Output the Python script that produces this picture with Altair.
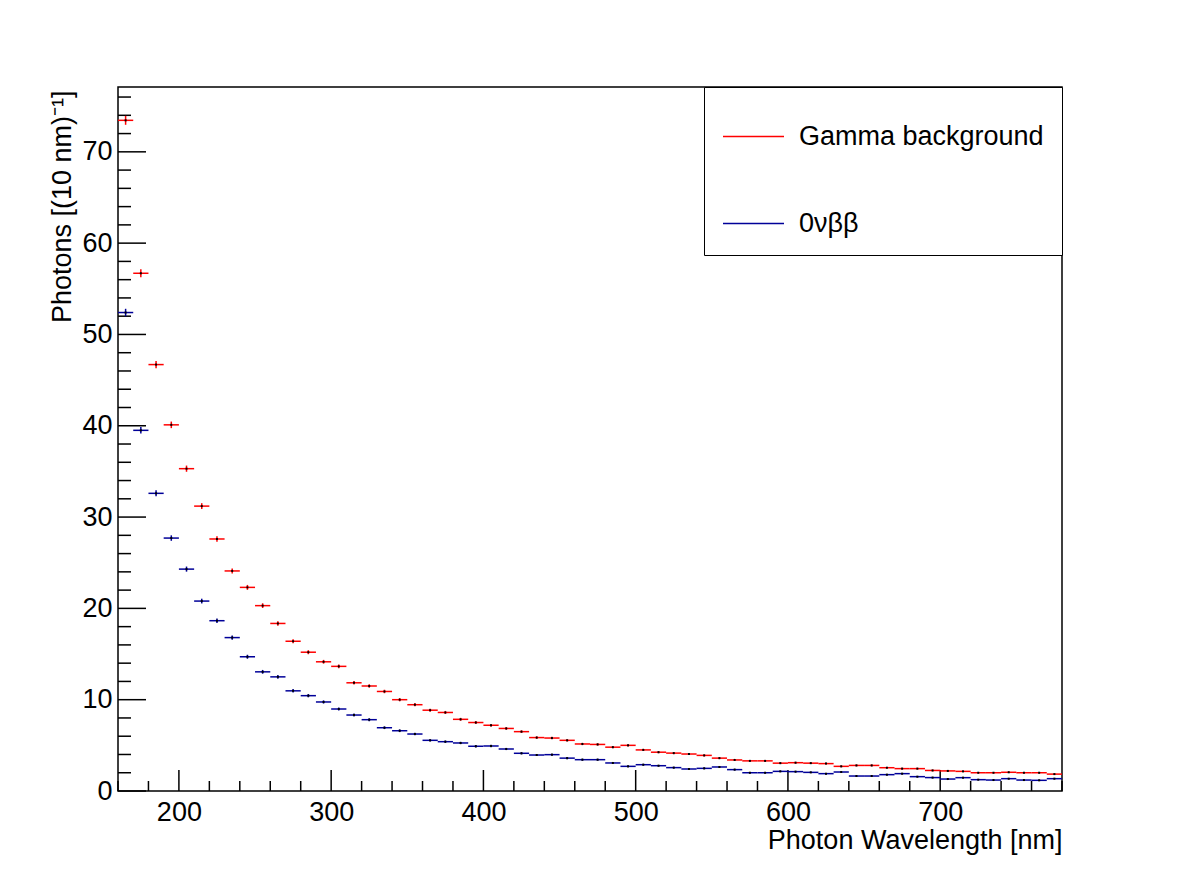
import altair as alt
import pandas as pd

# ---------------- data ----------------
wavelength = list(range(165, 780, 10))  # bin centres [nm], 10 nm bins from 160 to 780
series_names = ["Gamma background", "0νββ"]
series_colors = ["#ff0000", "#000099"]

gamma = [73.45, 56.7, 46.7, 40.1, 35.3, 31.2, 27.6, 24.1, 22.3, 20.3,
         18.35, 16.4, 15.2, 14.15, 13.65, 11.85, 11.5, 10.9, 10.0, 9.45,
         8.85, 8.6, 7.85, 7.5, 7.2, 6.85, 6.5, 5.85, 5.8, 5.55,
         5.15, 5.1, 4.8, 5.0, 4.5, 4.25, 4.15, 4.05, 3.9, 3.6,
         3.4, 3.3, 3.3, 3.05, 3.1, 3.05, 3.0, 2.7, 2.8, 2.8,
         2.55, 2.45, 2.45, 2.25, 2.2, 2.15, 2.0, 2.0, 2.05, 2.0,
         2.0, 1.85]
gamma_err = [0.49, 0.43, 0.39, 0.36, 0.34, 0.32, 0.30, 0.28, 0.27, 0.26,
             0.24, 0.23, 0.22, 0.21, 0.21, 0.20, 0.19, 0.19, 0.18, 0.18,
             0.17, 0.17, 0.16, 0.16, 0.15, 0.15, 0.15, 0.14, 0.14, 0.13,
             0.13, 0.13, 0.12, 0.13, 0.12, 0.12, 0.12, 0.11, 0.11, 0.11,
             0.11, 0.10, 0.10, 0.10, 0.10, 0.10, 0.10, 0.09, 0.10, 0.10,
             0.09, 0.09, 0.09, 0.09, 0.08, 0.08, 0.08, 0.08, 0.08, 0.08,
             0.08, 0.08]
nubb = [52.4, 39.5, 32.6, 27.7, 24.3, 20.8, 18.65, 16.8, 14.7, 13.05,
        12.5, 10.97, 10.44, 9.75, 8.98, 8.32, 7.81, 6.93, 6.6, 6.24,
        5.55, 5.4, 5.26, 4.9, 4.93, 4.6, 4.13, 3.94, 3.98, 3.6,
        3.43, 3.43, 3.07, 2.7, 2.88, 2.77, 2.56, 2.41, 2.48, 2.63,
        2.34, 2.0, 2.0, 2.15, 2.12, 2.04, 1.9, 2.08, 1.64, 1.64,
        1.79, 1.9, 1.57, 1.47, 1.31, 1.46, 1.24, 1.2, 1.35, 1.2,
        1.17, 1.35]
nubb_err = [0.41, 0.36, 0.33, 0.30, 0.28, 0.26, 0.25, 0.23, 0.22, 0.21,
            0.20, 0.19, 0.18, 0.18, 0.17, 0.16, 0.16, 0.15, 0.15, 0.14,
            0.13, 0.13, 0.13, 0.13, 0.13, 0.12, 0.12, 0.11, 0.11, 0.11,
            0.11, 0.11, 0.10, 0.09, 0.10, 0.09, 0.09, 0.09, 0.09, 0.09,
            0.09, 0.08, 0.08, 0.08, 0.08, 0.08, 0.08, 0.08, 0.07, 0.07,
            0.08, 0.08, 0.07, 0.07, 0.07, 0.07, 0.06, 0.06, 0.07, 0.06,
            0.06, 0.07]

x_domain = [160, 780]
y_domain = [0, 77.1]
x_major = [200, 300, 400, 500, 600, 700]
x_minor = [160, 180, 220, 240, 260, 280, 320, 340, 360, 380, 420, 440, 460, 480,
           520, 540, 560, 580, 620, 640, 660, 680, 720, 740, 760, 780]
y_major = [0, 10, 20, 30, 40, 50, 60, 70]
y_minor = [2, 4, 6, 8, 12, 14, 16, 18, 22, 24, 26, 28, 32, 34, 36, 38,
           42, 44, 46, 48, 52, 54, 56, 58, 62, 64, 66, 68, 72, 74, 76]

rows = []
for name, vals, errs in ((series_names[0], gamma, gamma_err),
                         (series_names[1], nubb, nubb_err)):
    for c, v, e in zip(wavelength, vals, errs):
        rows.append(dict(series=name, lo=c - 5, hi=c + 5, x=c, y=v,
                         ylo=v - e, yhi=v + e))
df = pd.DataFrame(rows)

W, H = 944, 704
FONT = "Liberation Sans"
FS = 27

xscale = alt.Scale(domain=x_domain, nice=False, zero=False)
yscale = alt.Scale(domain=y_domain, nice=False, zero=False)

xaxis = alt.Axis(values=x_major, format="d", title="Photon Wavelength [nm]",
                 ticks=False, tickSize=0, domain=False, grid=False,
                 labelFont=FONT, labelFontSize=FS, labelColor="black",
                 labelPadding=8, labelFlush=False, labelOverlap=False,
                 titleFont=FONT, titleFontSize=FS, titleFontWeight="normal",
                 titleColor="black", titleAlign="right", titleAnchor="end",
                 titleX=W, titleY=57, titleBaseline="alphabetic")
yaxis = alt.Axis(values=y_major, format="d", title="Photons [(10 nm)⁻¹]",
                 ticks=False, tickSize=0, domain=False, grid=False,
                 labelFont=FONT, labelFontSize=FS, labelColor="black",
                 labelPadding=6, labelFlush=False, labelOverlap=False,
                 titleFont=FONT, titleFontSize=FS, titleFontWeight="normal",
                 titleColor="black", titleAngle=270, titleAlign="right",
                 titleX=-48, titleY=3, titleBaseline="alphabetic")

color = alt.Color(
    "series:N",
    scale=alt.Scale(domain=series_names, range=series_colors),
    legend=alt.Legend(
        title=None, orient="none", legendX=586, legendY=0,
        direction="vertical", symbolType="stroke", symbolSize=3721,
        symbolStrokeWidth=1.5, labelFont=FONT, labelFontSize=FS,
        labelColor="black", labelOffset=14, padding=18, rowPadding=42,
        strokeColor="black", fillColor="white", labelLimit=400,
    ),
)

base = alt.Chart(df)

hbars = base.mark_rule(strokeWidth=1.5).encode(
    x=alt.X("lo:Q", scale=xscale, axis=xaxis),
    x2="hi:Q",
    y=alt.Y("y:Q", scale=yscale, axis=yaxis),
    color=color,
)
vbars = base.mark_rule(strokeWidth=1.5).encode(
    x=alt.X("x:Q", scale=xscale, axis=xaxis),
    y=alt.Y("ylo:Q", scale=yscale, axis=yaxis),
    y2="yhi:Q",
    color=alt.Color("series:N", scale=alt.Scale(domain=series_names, range=series_colors), legend=None),
)
dots = base.mark_square(size=4, color="black", opacity=1).encode(
    x=alt.X("x:Q", scale=xscale, axis=xaxis),
    y=alt.Y("y:Q", scale=yscale, axis=yaxis),
)

ymaj = alt.Chart(pd.DataFrame({"v": y_major})).mark_rule(color="black", strokeWidth=1.5).encode(
    y=alt.Y("v:Q", scale=yscale, axis=yaxis), x=alt.value(0), x2=alt.value(28))
ymin = alt.Chart(pd.DataFrame({"v": y_minor})).mark_rule(color="black", strokeWidth=1.5).encode(
    y=alt.Y("v:Q", scale=yscale, axis=yaxis), x=alt.value(0), x2=alt.value(13))
xmaj = alt.Chart(pd.DataFrame({"v": x_major})).mark_rule(color="black", strokeWidth=1.5).encode(
    x=alt.X("v:Q", scale=xscale, axis=xaxis), y=alt.value(H), y2=alt.value(H - 21))
xmin = alt.Chart(pd.DataFrame({"v": x_minor})).mark_rule(color="black", strokeWidth=1.5).encode(
    x=alt.X("v:Q", scale=xscale, axis=xaxis), y=alt.value(H), y2=alt.value(H - 10))

chart = alt.layer(ymaj, ymin, xmaj, xmin, hbars, vbars, dots).properties(
    width=W, height=H,
    autosize=alt.AutoSizeParams(type="none"),
    padding={"left": 118, "top": 87, "right": 120, "bottom": 89},
    background="white",
).configure_view(stroke="black", strokeWidth=1.5)

chart.save("out.html", embed_options={"renderer": "svg", "actions": False})
